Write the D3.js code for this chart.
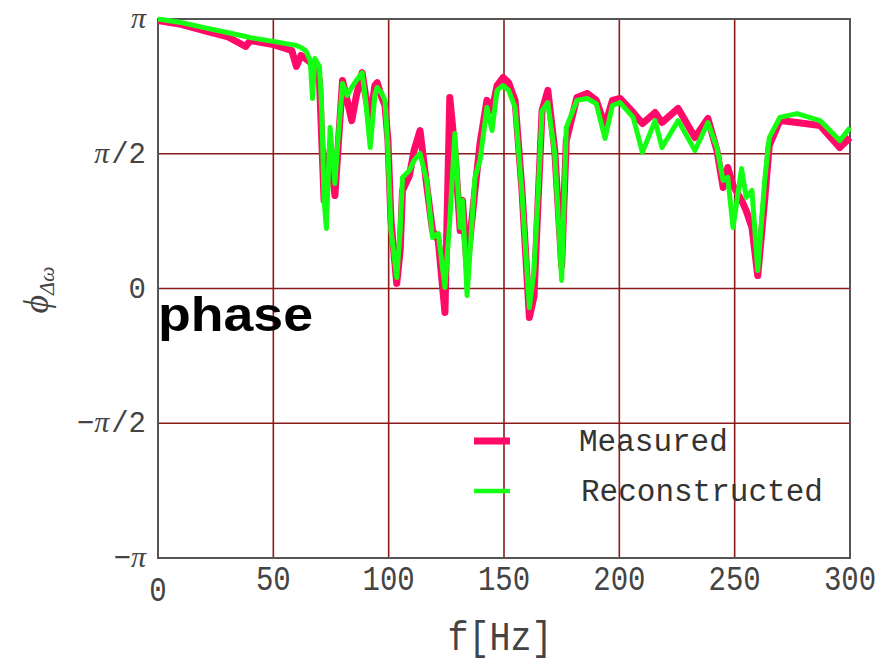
<!DOCTYPE html>
<html>
<head>
<meta charset="utf-8">
<script src="https://cdn.jsdelivr.net/npm/d3@7"></script>
<style>
  html, body { margin: 0; padding: 0; background: #fff; }
  svg { display: block; }
</style>
</head>
<body>
<svg id="chart" width="894" height="665"></svg>
<script>
// ---- data (phase in units of π) ----
const freq = [0, 10, 20, 30, 38, 40, 50, 58, 60, 62, 64, 66, 67, 68, 70, 71, 72, 73, 74.6, 76.7, 78, 80, 82, 84, 86, 88.5, 90, 92, 94, 95, 97, 98.4, 99.7, 101, 103.5, 105, 106, 109, 111, 113.6, 116.5, 119, 121.5, 124.4, 126.5, 128.7, 131, 132, 134, 137.4, 139.6, 142.6, 144.8, 147, 149.6, 152, 154.8, 157.8, 161, 163, 164.8, 166.5, 169, 172, 175, 177, 181.6, 186, 190, 193.8, 197, 200.3, 206, 210, 215.5, 218.5, 225.5, 232.8, 238.4, 242.3, 245, 247, 249.3, 253, 255, 257.5, 260, 263, 265, 269.6, 277, 287, 295.6, 300];
const measured = [0.994, 0.980, 0.957, 0.935, 0.898, 0.920, 0.905, 0.883, 0.824, 0.865, 0.853, 0.839, 0.827, 0.816, 0.772, 0.549, 0.327, 0.382, 0.512, 0.345, 0.512, 0.772, 0.698, 0.623, 0.716, 0.801, 0.716, 0.623, 0.753, 0.764, 0.709, 0.679, 0.549, 0.252, 0.019, 0.141, 0.364, 0.419, 0.512, 0.586, 0.382, 0.215, 0.178, -0.089, 0.709, 0.512, 0.215, 0.327, 0.078, 0.364, 0.538, 0.698, 0.660, 0.753, 0.783, 0.764, 0.698, 0.364, -0.108, -0.030, 0.327, 0.660, 0.735, 0.512, 0.085, 0.549, 0.709, 0.724, 0.698, 0.605, 0.698, 0.705, 0.653, 0.612, 0.653, 0.616, 0.668, 0.560, 0.631, 0.512, 0.375, 0.449, 0.382, 0.327, 0.289, 0.226, 0.048, 0.327, 0.531, 0.623, 0.616, 0.605, 0.523, 0.560];
const reconstructed = [1.0, 0.987, 0.968, 0.950, 0.935, 0.931, 0.917, 0.905, 0.902, 0.894, 0.883, 0.846, 0.705, 0.853, 0.824, 0.660, 0.327, 0.223, 0.597, 0.390, 0.549, 0.761, 0.716, 0.746, 0.772, 0.801, 0.698, 0.523, 0.716, 0.746, 0.724, 0.698, 0.512, 0.215, 0.041, 0.215, 0.412, 0.438, 0.475, 0.501, 0.401, 0.189, 0.204, 0.004, 0.252, 0.575, 0.226, 0.327, -0.026, 0.412, 0.475, 0.672, 0.586, 0.735, 0.753, 0.735, 0.672, 0.353, -0.071, 0.067, 0.353, 0.660, 0.690, 0.501, 0.030, 0.597, 0.698, 0.705, 0.686, 0.557, 0.679, 0.690, 0.635, 0.505, 0.623, 0.523, 0.623, 0.512, 0.616, 0.523, 0.401, 0.412, 0.226, 0.445, 0.338, 0.364, 0.067, 0.401, 0.560, 0.635, 0.649, 0.623, 0.549, 0.597];
const xTicks = [0, 50, 100, 150, 200, 250, 300];
const yTicks = [-1, -0.5, 0, 0.5, 1];
// tick label parts: [sign, pi, rest]
const yTickLabels = [["\u2212", "\u03C0", ""], ["\u2212", "\u03C0", "/2"], ["", "", "0"], ["", "\u03C0", "/2"], ["", "\u03C0", ""]];
const seriesNames = ["Measured", "Reconstructed"];

// ---- layout ----
const svg = d3.select("#chart");
const L = 158, R = 850, T = 19, B = 558;
const x = d3.scaleLinear().domain([0, 300]).range([L, R]);
const y = d3.scaleLinear().domain([-1, 1]).range([B, T]);
const gridColor = "#8c1a1a";
const frameColor = "#555";
const textColor = "#444";
const mono = "'Liberation Mono', 'DejaVu Sans Mono', monospace";
const serif = "'Liberation Serif', 'DejaVu Serif', serif";

// gridlines
const grid = svg.append("g");
grid.selectAll("line.vx").data(xTicks.filter(d => d > 0 && d < 300)).join("line")
  .attr("x1", d => x(d)).attr("x2", d => x(d)).attr("y1", T).attr("y2", B)
  .attr("stroke", gridColor).attr("stroke-width", 1.6);
grid.selectAll("line.hy").data(yTicks.filter(d => d > -1 && d < 1)).join("line")
  .attr("x1", L).attr("x2", R).attr("y1", d => y(d)).attr("y2", d => y(d))
  .attr("stroke", gridColor).attr("stroke-width", 1.6);

// frame
svg.append("rect").attr("x", L).attr("y", T).attr("width", R - L).attr("height", B - T)
  .attr("fill", "none").attr("stroke", frameColor).attr("stroke-width", 2);

// x tick labels
svg.append("g").selectAll("text").data(xTicks).join("text")
  .attr("transform", d => `translate(${x(d)},${d === 0 ? 601 : 590}) scale(1,1.2)`)
  .attr("text-anchor", "middle")
  .attr("font-family", mono).attr("font-size", 29).attr("fill", textColor)
  .text(d => d);

// y tick labels
const yl = svg.append("g").selectAll("text").data(yTicks).join("text")
  .attr("x", 146).attr("y", d => y(d) + 9)
  .attr("text-anchor", "end")
  .attr("font-family", mono).attr("font-size", 29).attr("fill", textColor);
yl.each(function(d, i) {
  const t = d3.select(this);
  const p = yTickLabels[i];
  if (p[0]) t.append("tspan").text(p[0]);
  if (p[1]) t.append("tspan").attr("font-family", serif).attr("font-style", "italic").attr("font-size", 30).text(p[1]);
  if (p[2]) t.append("tspan").attr("dx", p[1] ? 2 : 0).text(p[2]);
});

// axis titles
svg.append("text")
  .attr("transform", "translate(500,650) scale(1,1.15)")
  .attr("text-anchor", "middle")
  .attr("font-family", mono).attr("font-size", 35).attr("fill", textColor)
  .text("f[Hz]");

const yt = svg.append("text")
  .attr("transform", "translate(48,290) rotate(-90)")
  .attr("text-anchor", "middle")
  .attr("font-family", serif).attr("fill", textColor);
yt.append("tspan").attr("font-size", 36).attr("font-style", "italic").text("\u03D5");
yt.append("tspan").attr("font-size", 22).attr("dy", 6).attr("font-style", "italic").text("\u0394\u03C9");

// series
const line = d3.line().x((d, i) => x(freq[i])).y(d => y(d));
svg.append("path").datum(measured)
  .attr("d", line).attr("fill", "none").attr("stroke", "#ff0a68")
  .attr("stroke-width", 7).attr("stroke-linejoin", "round");
svg.append("path").datum(reconstructed)
  .attr("d", line).attr("fill", "none").attr("stroke", "#14ff14")
  .attr("stroke-width", 5).attr("stroke-linejoin", "round");

// "phase" label
svg.append("text")
  .attr("x", 158).attr("y", 331)
  .attr("font-family", "'Liberation Sans', Arial, sans-serif")
  .attr("font-weight", "bold").attr("font-size", 48).attr("fill", "#000")
  .attr("textLength", 155).attr("lengthAdjust", "spacingAndGlyphs")
  .text("phase");

// legend
const legend = svg.append("g");
const legY = [441, 491];
const legColors = ["#ff0a68", "#14ff14"];
const legW = [7, 4.5];
seriesNames.forEach((name, i) => {
  legend.append("line")
    .attr("x1", 474).attr("x2", 510).attr("y1", legY[i]).attr("y2", legY[i])
    .attr("stroke", legColors[i]).attr("stroke-width", legW[i]);
  legend.append("text")
    .attr("x", i === 0 ? 579 : 581).attr("y", legY[i] + 10)
    .attr("font-family", mono).attr("font-size", 31).attr("fill", "#333")
    .text(name);
});
</script>
</body>
</html>
